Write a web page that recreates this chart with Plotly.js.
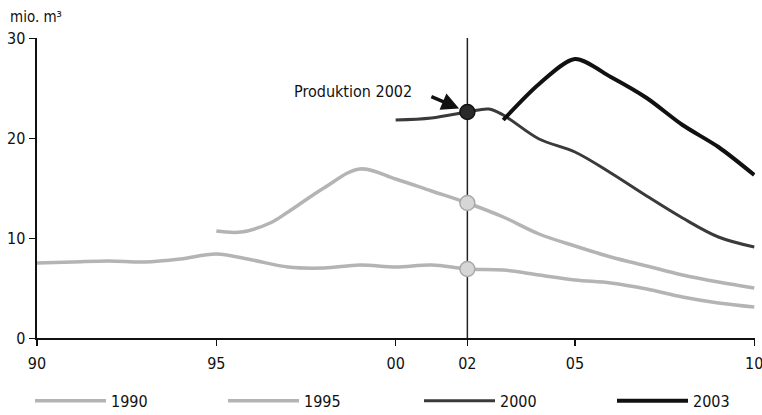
<!DOCTYPE html>
<html>
<head>
<meta charset="utf-8">
<script src="https://cdn.plot.ly/plotly-3.0.1.min.js"></script>
<style>html,body{margin:0;padding:0;background:#fff;}#chart{width:762px;height:415px;}</style>
</head>
<body>
<div id="chart"></div>
<script>
// ---- data ----
const seriesNames = ["1990", "1995", "2000", "2003"];

const years1990 = [1990,1991,1992,1993,1994,1995,1996,1997,1998,1999,2000,2001,2002,2003,2004,2005,2006,2007,2008,2009,2010];
const values1990 = [7.5,7.6,7.7,7.6,7.9,8.4,7.8,7.1,7.0,7.3,7.1,7.3,6.9,6.8,6.3,5.8,5.5,4.9,4.1,3.5,3.1];

const years1995 = [1995,1995.7,1996.5,1997,1998,1999,2000,2001,2002,2003,2004,2005,2006,2007,2008,2009,2010];
const values1995 = [10.7,10.6,11.5,12.6,15.0,16.9,15.9,14.7,13.5,12.1,10.4,9.2,8.1,7.2,6.3,5.6,5.0];

const years2000 = [2000,2001,2002,2002.6,2003,2004,2005,2006,2007,2008,2009,2010];
const values2000 = [21.8,22.0,22.6,22.9,22.3,19.9,18.6,16.5,14.2,12.0,10.1,9.1];

const years2003 = [2003,2004,2005,2006,2007,2008,2009,2010];
const values2003 = [21.8,25.4,27.9,26.1,24.0,21.3,19.1,16.3];

const markYears = [2002, 2002, 2002];
const markValues = [6.9, 13.5, 22.6];

const tickYears = [1990, 1995, 2000, 2002, 2005, 2010];
const tickLabels = ["90", "95", "00", "02", "05", "10"];
const yTicks = [0, 10, 20, 30];

const annotationText = "Produktion 2002";
const unitLabel = "mio. m³";

// ---- styles ----
const FONT = "'DejaVu Sans Condensed', 'Liberation Sans Narrow', sans-serif";
const lightGray = "#b4b4b4";

const traces = [
  {x: years1990, y: values1990, name: seriesNames[0], mode: "lines", legend: "legend",
   line: {color: lightGray, width: 3.5, shape: "spline", smoothing: 1}},
  {x: years1995, y: values1995, name: seriesNames[1], mode: "lines", legend: "legend2",
   line: {color: lightGray, width: 3.5, shape: "spline", smoothing: 1}},
  {x: years2000, y: values2000, name: seriesNames[2], mode: "lines", legend: "legend3",
   line: {color: "#3a3a3a", width: 3, shape: "spline", smoothing: 1}},
  {x: years2003, y: values2003, name: seriesNames[3], mode: "lines", legend: "legend4",
   line: {color: "#111111", width: 4, shape: "spline", smoothing: 0.8}},
  {x: markYears, y: markValues, mode: "markers", showlegend: false, hoverinfo: "skip",
   marker: {size: 15, color: ["#d6d6d6", "#d6d6d6", "#2a2a2a"],
            line: {color: ["#a8a8a8", "#a8a8a8", "#111"], width: 1.5}}}
];

function legendAt(px) {
  return {orientation: "h", x: (px - 37) / 718, xanchor: "left", y: -0.153, yanchor: "top",
          itemwidth: 71, bgcolor: "rgba(0,0,0,0)",
          font: {family: FONT, size: 16, color: "#111"}};
}

const layout = {
  width: 762, height: 415,
  paper_bgcolor: "#fff", plot_bgcolor: "#fff",
  margin: {l: 37, r: 7, t: 38, b: 77, autoexpand: false},
  font: {family: FONT, size: 16, color: "#111"},
  showlegend: true,
  legend: legendAt(30),
  legend2: legendAt(223),
  legend3: legendAt(419),
  legend4: legendAt(612),
  xaxis: {range: [1990, 2010.02], tickvals: tickYears, ticktext: tickLabels, automargin: false,
          ticklabeloverflow: "allow",
          showgrid: false, zeroline: false, showline: true, linecolor: "#111", linewidth: 2,
          ticks: "outside", ticklen: 6, tickwidth: 1.5, tickcolor: "#111", ticklabelstandoff: 4,
          tickfont: {family: FONT, size: 16, color: "#111"}},
  yaxis: {range: [0, 30], tickvals: yTicks, showgrid: false, zeroline: false, automargin: false,
          showline: true, linecolor: "#111", linewidth: 2.5,
          ticks: "outside", ticklen: 6, tickwidth: 1, tickcolor: "#111",
          tickfont: {family: FONT, size: 16, color: "#111"}},
  shapes: [
    {type: "line", xref: "x", yref: "y", x0: 2002, x1: 2002, y0: 0, y1: 30,
     line: {color: "#222", width: 1.5}, layer: "below"}
  ],
  annotations: [
    {xref: "paper", yref: "paper", x: -0.04, y: 1.07, xanchor: "left", yanchor: "middle",
     text: unitLabel, showarrow: false, font: {family: FONT, size: 15, color: "#111"}},
    {xref: "x", yref: "y", x: 1998.82, y: 24.7, xanchor: "center", yanchor: "middle",
     text: annotationText, showarrow: false, font: {family: FONT, size: 16, color: "#111"}},
    {xref: "x", yref: "y", x: 2002, y: 22.6, text: " ", showarrow: true,
     ax: -40, ay: -17, arrowhead: 2, arrowsize: 1, arrowwidth: 3.5, arrowcolor: "#111",
     standoff: 9}
  ]
};

Plotly.newPlot("chart", traces, layout, {staticPlot: true, displayModeBar: false});
</script>
</body>
</html>
